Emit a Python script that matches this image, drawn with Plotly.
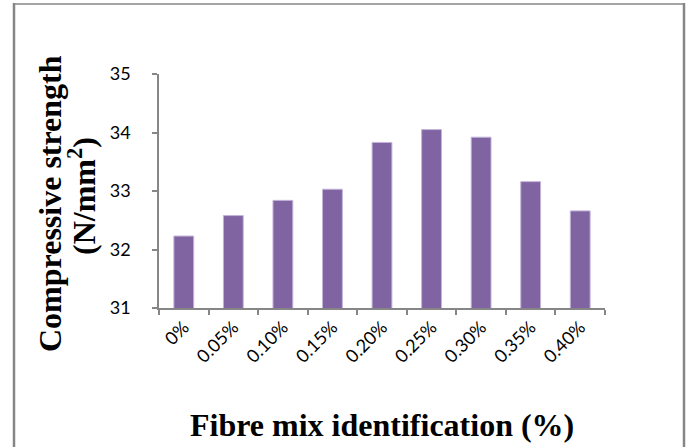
import plotly.graph_objects as go

# Fibre dosage categories and measured compressive strength (N/mm²)
fibre_mix = ["0%", "0.05%", "0.10%", "0.15%", "0.20%", "0.25%", "0.30%", "0.35%", "0.40%"]
strength = [32.23, 32.58, 32.84, 33.03, 33.83, 34.05, 33.92, 33.16, 32.66]
y_ticks = [31, 32, 33, 34, 35]

W, H = 687, 447
ML, MR, MT, MB = 159, 82, 74, 139
PW, PH = W - ML - MR, H - MT - MB


def px_x(px):
    return (px - ML) / PW


def px_y(py):
    return 1 - (py - MT) / PH


AXIS = "#868686"

fig = go.Figure(
    go.Bar(
        x=fibre_mix,
        y=strength,
        width=0.4,
        marker=dict(color="#8064A2", line=dict(color="#C3B4DA", width=1)),
    )
)

fig.update_layout(
    width=W,
    height=H,
    margin=dict(l=ML, r=MR, t=MT, b=MB, pad=0),
    paper_bgcolor="white",
    plot_bgcolor="white",
    showlegend=False,
    font=dict(family="Lato", size=18, color="black"),
)

fig.update_xaxes(
    type="category",
    tickson="boundaries",
    ticks="outside",
    ticklen=5,
    tickwidth=1.5,
    tickcolor=AXIS,
    showline=True,
    linecolor=AXIS,
    linewidth=1.5,
    showgrid=False,
    tickangle=-45,
    tickfont=dict(family="Lato", size=18),
)

fig.update_yaxes(
    range=[31, 35],
    tickvals=y_ticks,
    ticks="outside",
    ticklen=5,
    tickwidth=1.5,
    tickcolor=AXIS,
    showline=True,
    linecolor=AXIS,
    linewidth=1.5,
    showgrid=False,
    zeroline=False,
    ticklabelstandoff=18,
    tickfont=dict(family="Lato", size=18),
)

title_font = dict(family="Liberation Serif", size=32, color="black")

fig.add_annotation(
    text="<b>Fibre mix identification (%)</b>",
    xref="paper", yref="paper",
    x=px_x(382), y=px_y(425),
    xanchor="center", yanchor="middle",
    showarrow=False, font=title_font,
)
fig.add_annotation(
    text="<b>Compressive strength</b>",
    xref="paper", yref="paper",
    x=px_x(50), y=px_y(204),
    xanchor="center", yanchor="middle",
    textangle=-90,
    showarrow=False, font=title_font,
)
fig.add_annotation(
    text="<b>(N/mm<sup>2</sup>)</b>",
    xref="paper", yref="paper",
    x=px_x(82), y=px_y(196),
    xanchor="center", yanchor="middle",
    textangle=-90,
    showarrow=False, font=title_font,
)

# Frame around the chart (open at the bottom edge)
frame = dict(type="line", xref="paper", yref="paper", line=dict(color=AXIS))
fig.add_shape(**frame, x0=px_x(14), x1=px_x(14), y0=px_y(3), y1=px_y(460), line_width=2.5)
fig.add_shape(**frame, x0=px_x(13), x1=px_x(685), y0=px_y(4), y1=px_y(4), line_width=1.5)
fig.add_shape(**frame, x0=px_x(684), x1=px_x(684), y0=px_y(3), y1=px_y(460), line_width=2.5)

fig.write_html("out.html")
